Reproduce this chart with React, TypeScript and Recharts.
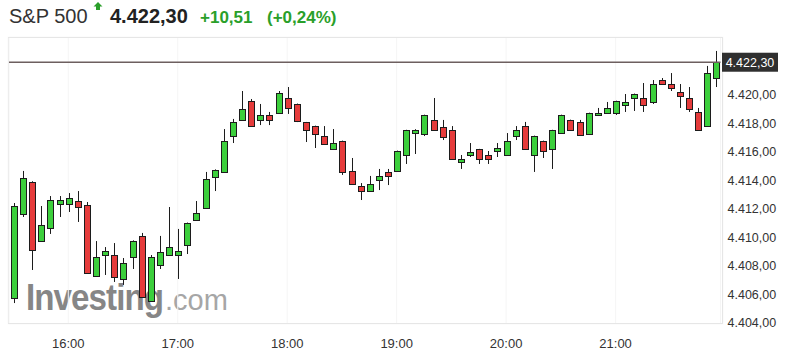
import { CartesianGrid, Bar, ComposedChart, ReferenceLine, XAxis, YAxis } from 'recharts'

const FONT = '"Liberation Sans", Arial, sans-serif'
const UP_COLOR = '#3ccf3c'
const DOWN_COLOR = '#e53b3b'
const OUTLINE = '#1c1c1c'
const GREEN_TEXT = '#2a9f2a'

const times = [
  '15:30', '15:35', '15:40', '15:45', '15:50', '15:55',
  '16:00', '16:05', '16:10', '16:15', '16:20', '16:25', '16:30', '16:35', '16:40', '16:45', '16:50', '16:55',
  '17:00', '17:05', '17:10', '17:15', '17:20', '17:25', '17:30', '17:35', '17:40', '17:45', '17:50', '17:55',
  '18:00', '18:05', '18:10', '18:15', '18:20', '18:25', '18:30', '18:35', '18:40', '18:45', '18:50', '18:55',
  '19:00', '19:05', '19:10', '19:15', '19:20', '19:25', '19:30', '19:35', '19:40', '19:45', '19:50', '19:55',
  '20:00', '20:05', '20:10', '20:15', '20:20', '20:25', '20:30', '20:35', '20:40', '20:45', '20:50', '20:55',
  '21:00', '21:05', '21:10', '21:15', '21:20', '21:25', '21:30', '21:35', '21:40', '21:45', '21:50', '21:55',
]

const opens = [
  4405.75, 4411.65, 4413.89, 4409.75, 4410.67, 4412.35, 4412.35, 4412.56, 4412.28, 4407.3,
  4408.77, 4408.77, 4407.09, 4408.63, 4410.11, 4405.54, 4408.07, 4408.77, 4408.77, 4409.47,
  4411.23, 4412.07, 4414.25, 4414.6, 4417.12, 4418.25, 4419.58, 4418.25, 4418.6, 4418.74,
  4419.79, 4419.37, 4418.09, 4417.82, 4417.12, 4416.21, 4416.77, 4414.67, 4413.61, 4413.26,
  4414.04, 4414.6, 4414.67, 4415.79, 4417.33, 4417.26, 4418.25, 4417.75, 4417.54, 4415.3,
  4415.79, 4416.21, 4415.79, 4416.07, 4415.79, 4417.12, 4417.82, 4415.79, 4416.77, 4416.21,
  4417.33, 4418.25, 4418.11, 4417.26, 4418.6, 4418.74, 4418.74, 4419.3, 4419.79, 4419.79,
  4419.51, 4421.05, 4420.77, 4420.21, 4419.79, 4418.81, 4417.82, 4421.19,
]

const closes = [
  4412.21, 4414.18, 4409.12, 4410.88, 4412.63, 4412.63, 4412.77, 4412.14, 4407.51, 4408.63,
  4409.05, 4407.23, 4408.21, 4409.75, 4405.82, 4408.63, 4408.98, 4409.33, 4409.05, 4411.02,
  4411.72, 4414.11, 4414.74, 4416.77, 4418.11, 4419.02, 4417.82, 4418.6, 4418.25, 4420.14,
  4419.09, 4418.18, 4417.54, 4417.26, 4416.56, 4416.63, 4414.6, 4413.75, 4413.26, 4413.75,
  4414.32, 4414.32, 4416.07, 4417.54, 4417.54, 4418.6, 4417.54, 4417.05, 4415.51, 4415.51,
  4416.0, 4415.51, 4415.51, 4416.28, 4416.77, 4417.54, 4416.21, 4417.12, 4416.07, 4417.54,
  4418.6, 4417.54, 4417.19, 4418.74, 4418.74, 4419.09, 4419.58, 4419.51, 4420.07, 4419.3,
  4420.77, 4420.77, 4420.49, 4419.93, 4419.02, 4417.54, 4421.54, 4422.3,
]

const highs = [
  4412.42, 4414.67, 4413.95, 4412.21, 4412.91, 4412.91, 4413.12, 4413.26, 4412.49, 4409.75,
  4409.33, 4409.61, 4408.56, 4409.8, 4410.32, 4408.77, 4410.11, 4412.14, 4410.6, 4411.05,
  4412.56, 4414.6, 4414.78, 4417.61, 4418.32, 4420.28, 4419.72, 4419.37, 4418.81, 4420.28,
  4420.56, 4419.4, 4418.11, 4417.85, 4417.82, 4417.61, 4416.8, 4415.58, 4413.82, 4414.32,
  4414.81, 4414.81, 4416.1, 4417.56, 4417.6, 4418.62, 4419.79, 4418.25, 4417.82, 4415.79,
  4416.63, 4416.22, 4416.07, 4416.63, 4417.33, 4417.82, 4418.11, 4417.15, 4416.8, 4417.56,
  4418.62, 4418.27, 4418.25, 4418.76, 4419.09, 4419.51, 4419.6, 4420.07, 4420.1, 4420.84,
  4421.05, 4421.19, 4421.54, 4420.77, 4420.56, 4419.09, 4422.04, 4423.09,
]

const lows = [
  4405.4, 4411.44, 4407.72, 4409.7, 4410.25, 4411.44, 4411.79, 4411.09, 4407.45, 4407.25,
  4407.37, 4406.88, 4406.67, 4407.79, 4405.8, 4405.5, 4407.79, 4408.75, 4407.09, 4408.84,
  4411.2, 4412.05, 4413.26, 4414.58, 4416.63, 4418.22, 4417.8, 4417.89, 4417.89, 4418.67,
  4418.67, 4418.1, 4416.7, 4416.28, 4416.55, 4416.2, 4414.39, 4413.72, 4412.63, 4413.24,
  4413.33, 4413.68, 4414.6, 4415.16, 4415.86, 4417.12, 4417.5, 4416.84, 4415.5, 4414.81,
  4415.65, 4415.16, 4415.16, 4415.65, 4415.76, 4416.84, 4416.2, 4414.6, 4415.58, 4414.81,
  4417.3, 4417.52, 4417.17, 4417.24, 4418.58, 4418.67, 4418.6, 4418.81, 4418.88, 4418.81,
  4419.37, 4420.75, 4420.28, 4419.09, 4418.81, 4417.5, 4417.8, 4420.56,
]

const xTicks = ['16:00', '17:00', '18:00', '19:00', '20:00', '21:00']
const yTicks = [4404, 4406, 4408, 4410, 4412, 4414, 4416, 4418, 4420]
const lastPrice = 4422.3

const candles = times.map((time, i) => ({
  time,
  open: opens[i],
  close: closes[i],
  high: highs[i],
  low: lows[i],
}))

function formatPrice(v: number) {
  const [int, dec] = v.toFixed(2).split('.')
  return int.replace(/\B(?=(\d{3})+(?!\d))/g, '.') + ',' + dec
}

function Candle(props: any) {
  const { x, y, width, height, payload } = props
  if (!payload) return null
  const { open, close, high, low } = payload
  const h = Math.abs(height)
  const top = Math.min(y, y + height)
  const perUnit = high === low ? 0 : h / (high - low)
  const yOf = (v: number) => top + (high - v) * perUnit
  const cx = Math.round(x + width / 2)
  const up = close >= open
  const bodyTop = yOf(Math.max(open, close))
  const bodyBottom = yOf(Math.min(open, close))
  return (
    <g>
      <line x1={cx + 0.5} x2={cx + 0.5} y1={top} y2={top + h} stroke={OUTLINE} strokeWidth={1} />
      <rect
        x={cx - 2.5}
        y={Math.round(bodyTop) + 0.5}
        width={6}
        height={Math.max(Math.round(bodyBottom - bodyTop), 2)}
        fill={up ? UP_COLOR : DOWN_COLOR}
        stroke={OUTLINE}
        strokeWidth={1}
      />
    </g>
  )
}

function PriceTag(props: any) {
  const vb = props.viewBox
  if (!vb) return null
  const left = vb.x + vb.width + 1.5
  return (
    <g>
      <rect x={left} y={vb.y - 9.5} width={56} height={19} fill="#2f2f2f" />
      <text x={left + 28} y={vb.y + 4.5} textAnchor="middle" fill="#fff" fontSize={12.5} fontFamily={FONT}>
        {formatPrice(lastPrice)}
      </text>
    </g>
  )
}

export default function App() {
  return (
    <div style={{ position: 'absolute', left: 0, top: 0, width: 800, height: 360, background: '#fff', fontFamily: FONT }}>
      <svg width={800} height={36} style={{ position: 'absolute', left: 0, top: 0 }}>
        <text x={9} y={23} fontSize={20} fill="#333" fontFamily={FONT}>S&amp;P 500</text>
        <polygon points="98,2 102.5,6.5 100,6.5 100,10 96,10 96,6.5 93.5,6.5" fill={GREEN_TEXT} />
        <text x={110} y={23} fontSize={20} fontWeight="bold" fill="#222" fontFamily={FONT}>4.422,30</text>
        <text x={200} y={23} fontSize={17} fontWeight="bold" fill={GREEN_TEXT} fontFamily={FONT}>+10,51</text>
        <text x={267} y={23} fontSize={17} fontWeight="bold" fill={GREEN_TEXT} fontFamily={FONT}>(+0,24%)</text>
      </svg>
      <div
        style={{
          position: 'absolute',
          left: 8,
          top: 37,
          width: 713,
          height: 285,
          border: '1px solid #e6e6e6',
          boxShadow: '0 0 2px rgba(0,0,0,0.04)',
        }}
      />
      <div
        style={{
          position: 'absolute',
          left: 26,
          top: 278,
          whiteSpace: 'nowrap',
          color: '#868686',
          lineHeight: '40px',
        }}
      >
        <span
          style={{
            display: 'inline-block',
            fontSize: 36,
            fontWeight: 'bold',
            letterSpacing: -1,
            transform: 'scaleX(0.92)',
            transformOrigin: 'left',
            width: 139,
          }}
        >
          Investing
        </span>
        <span style={{ fontSize: 29, color: '#a6a6a6' }}>.com</span>
      </div>
      <div style={{ position: 'absolute', left: 0, top: 0 }}>
        <ComposedChart
          width={800}
          height={360}
          data={candles}
          margin={{ top: 38, right: 19.5, bottom: 7, left: 9 }}
        >
          <CartesianGrid horizontal={false} stroke="#f5f5f5" />
          <XAxis
            dataKey="time"
            ticks={xTicks}
            tickLine={false}
            axisLine={false}
            tickSize={0}
            tickMargin={16}
            height={30}
            tick={{ fontSize: 13, fill: '#333', fontFamily: FONT }}
          />
          <YAxis
            orientation="right"
            domain={[4404, 4424]}
            ticks={yTicks}
            tickFormatter={formatPrice}
            tickLine={false}
            axisLine={false}
            tickSize={0}
            tickMargin={7}
            width={60}
            tick={{ fontSize: 12.5, fill: '#333', fontFamily: FONT }}
          />
          <ReferenceLine
            y={lastPrice}
            stroke="#6d5f5f"
            strokeWidth={1.5}
            label={(p: any) => <PriceTag {...p} />}
          />
          <Bar
            dataKey={(d: any) => [d.low, d.high]}
            barSize={6}
            shape={<Candle />}
            isAnimationActive={false}
          />
        </ComposedChart>
      </div>
    </div>
  )
}
